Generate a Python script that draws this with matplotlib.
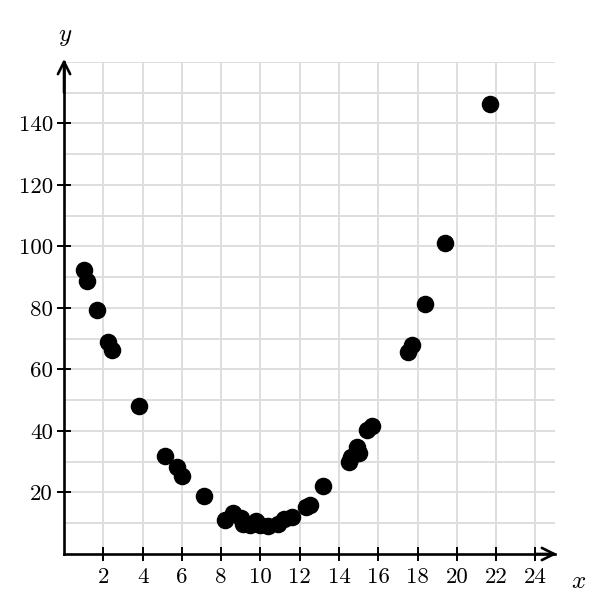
import numpy as np
import matplotlib.pyplot as plt

plt.rcParams['font.family'] = ['cmr10', 'DejaVu Serif']
plt.rcParams['mathtext.fontset'] = 'cm'
plt.rcParams['axes.formatter.use_mathtext'] = True

# Data
x_vals = [1.02, 1.17, 1.68, 2.24, 2.44, 3.82, 5.14, 5.75, 6.0, 7.12,
          8.19, 8.6, 9.0, 9.1, 9.47, 9.77, 9.97, 10.4, 10.9, 11.2, 11.6,
          12.3, 12.5, 13.2, 14.5, 14.6, 14.9, 15.0, 15.4, 15.7,
          17.5, 17.7, 18.4, 19.4, 21.7]
y_vals = [92.2, 88.9, 79.2, 69.1, 66.4, 48.2, 31.9, 28.3, 25.4, 18.9,
          11.1, 13.4, 11.7, 9.8, 9.4, 10.7, 9.4, 9.1, 9.8, 11.4, 12.0,
          15.3, 16.0, 22.1, 30.0, 31.6, 34.9, 33.0, 40.4, 41.7,
          65.8, 68.1, 81.4, 101.0, 146.3]

x_ticks = list(range(2, 25, 2))
y_ticks = list(range(20, 141, 20))

fig = plt.figure(figsize=(5.93, 6.15), dpi=100)
ax = fig.add_axes([0.108, 0.0992, 0.828, 0.8])

ax.set_xlim(0, 25)
ax.set_ylim(0, 160)

# grid
for gx in range(2, 25, 2):
    ax.axvline(gx, color='#dedede', lw=1.4, zorder=0)
for gy in range(10, 161, 10):
    ax.axhline(gy, color='#dedede', lw=1.4, zorder=0)

ax.scatter(x_vals, y_vals, s=135, color='black', zorder=3, clip_on=False)

for side in ['top', 'right']:
    ax.spines[side].set_visible(False)
for side in ['left', 'bottom']:
    ax.spines[side].set_linewidth(1.9)
    ax.spines[side].set_color('black')

ax.set_xticks(x_ticks)
ax.set_yticks(y_ticks)
ax.set_xticklabels([str(t) for t in x_ticks])
ax.set_yticklabels([str(t) for t in y_ticks])
ax.tick_params(direction='inout', length=10, width=1.4, labelsize=16.5,
               colors='black')
ax.tick_params(axis='x', pad=5)
ax.tick_params(axis='y', pad=3)

# arrow heads
ax.annotate('', xy=(25.1, 0), xytext=(24.0, 0),
            arrowprops=dict(arrowstyle='->', lw=1.9, color='black',
                            mutation_scale=22, shrinkA=0, shrinkB=0),
            annotation_clip=False)
ax.annotate('', xy=(0, 161), xytext=(0, 150),
            arrowprops=dict(arrowstyle='->', lw=1.9, color='black',
                            mutation_scale=22, shrinkA=0, shrinkB=0),
            annotation_clip=False)

fig.text(0.11, 0.94, '$y$', fontsize=18, ha='center', va='center')
fig.text(0.975, 0.054, '$x$', fontsize=18, ha='center', va='center')

plt.savefig('out.png', dpi=100)
